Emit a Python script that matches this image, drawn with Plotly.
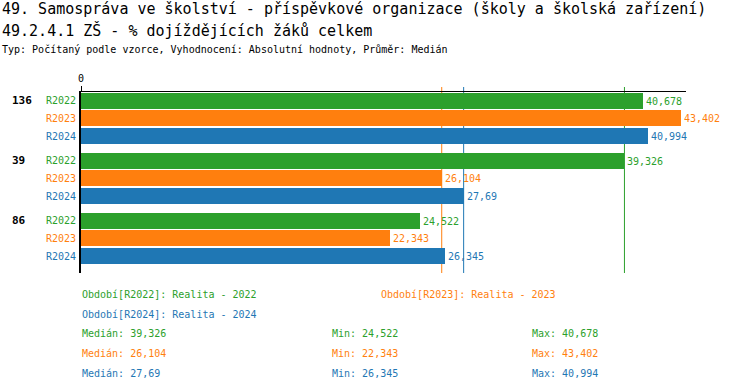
import numpy as np
import plotly.graph_objects as go

# ---- data ----
categories = ["136", "39", "86"]
series_names = ["R2022", "R2023", "R2024"]
series_desc = ["Realita - 2022", "Realita - 2023", "Realita - 2024"]
values_r2022 = [40.678, 39.326, 24.522]
values_r2023 = [43.402, 26.104, 22.343]
values_r2024 = [40.994, 27.69, 26.345]
x_ticks = [0]
x_tick_labels = ["0"]

title_1 = "49. Samospráva ve školství - příspěvkové organizace (školy a školská zařízení)"
title_2 = "49.2.4.1 ZŠ - % dojíždějících žáků celkem"
title_3 = "Typ: Počítaný podle vzorce, Vyhodnocení: Absolutní hodnoty, Průměr: Medián"

# ---- styles / layout ----
colors = ["#2ca02c", "#ff7f0e", "#1f77b4"]
FONT = "DejaVu Sans Mono"
W, H = 750, 392
PLOT_LEFT, PLOT_RIGHT, PLOT_TOP, PLOT_BOTTOM = 81, 686, 92, 273  # window pixels
L = PLOT_LEFT
R = W - PLOT_RIGHT
T = PLOT_TOP
B = H - PLOT_BOTTOM
PW, PH = W - L - R, H - T - B
GROUP = 60.0
SLOT = 17.8
BARW = 16
X_MAX = 43.78


def fmt(v):
    return f"{float(v):g}".replace(".", ",")


def paper(xpx, ypx):
    # window pixel coordinates -> paper coordinates
    return (xpx - PLOT_LEFT) / PW, (PLOT_BOTTOM - ypx) / PH


series_values = [values_r2022, values_r2023, values_r2024]

fig = go.Figure()
annotations = []
shapes = []

for s, (name, vals, col) in enumerate(zip(series_names, series_values, colors)):
    ys = [g * GROUP + s * SLOT for g in range(len(categories))]
    fig.add_trace(go.Bar(
        orientation="h",
        x=vals,
        y=ys,
        width=BARW,
        marker=dict(color=col, line=dict(width=0)),
        text=[fmt(v) for v in vals],
        textposition="outside",
        textfont=dict(family=FONT, size=10, color=col),
        cliponaxis=False,
        constraintext="none",
        name=name,
        showlegend=False,
        hoverinfo="skip",
    ))
    for y in ys:
        annotations.append(dict(
            x=0, y=y, xref="x", yref="y", text=name, showarrow=False,
            xanchor="right", yanchor="middle", xshift=-3,
            font=dict(family=FONT, size=10, color=col),
        ))
    med = float(np.median(vals))
    shapes.append(dict(
        type="line", xref="x", yref="paper", x0=med, x1=med,
        y0=0, y1=1 + 5 / PH, line=dict(color=col, width=1), layer="below",
    ))

# group labels
for g, cat in enumerate(categories):
    xp, _ = paper(10, 0)
    annotations.append(dict(
        x=xp, y=g * GROUP, xref="paper", yref="y", text=f"<b>{cat}</b>",
        showarrow=False, xanchor="left", yanchor="middle",
        font=dict(family=FONT, size=11, color="black"),
    ))

# titles
for txt, ypx, size in [(title_1, 9, 15), (title_2, 30, 15), (title_3, 50, 10)]:
    xp, yp = paper(0, ypx)
    annotations.append(dict(
        x=xp, y=yp, xref="paper", yref="paper", text=txt, showarrow=False,
        xanchor="left", yanchor="middle",
        font=dict(family=FONT, size=size, color="black"),
    ))

# legend rows
legend_items = [
    (f"Období[{series_names[0]}]: {series_desc[0]}", 80, 294.3, colors[0]),
    (f"Období[{series_names[1]}]: {series_desc[1]}", 379, 294.3, colors[1]),
    (f"Období[{series_names[2]}]: {series_desc[2]}", 80, 314.3, colors[2]),
]
row_y = [333.5, 353.5, 373.3]
for s, vals in enumerate(series_values):
    legend_items.append((f"Medián: {fmt(np.median(vals))}", 80, row_y[s], colors[s]))
    legend_items.append((f"Min: {fmt(min(vals))}", 330, row_y[s], colors[s]))
    legend_items.append((f"Max: {fmt(max(vals))}", 530, row_y[s], colors[s]))

for txt, xpx, ypx, col in legend_items:
    xp, yp = paper(xpx, ypx)
    annotations.append(dict(
        x=xp, y=yp, xref="paper", yref="paper", text=txt, showarrow=False,
        xanchor="left", yanchor="middle",
        font=dict(family=FONT, size=10, color=col),
    ))

y_top = -8.5
y_bottom = y_top + PH

fig.update_layout(
    width=W, height=H,
    margin=dict(l=L, r=R, t=T, b=B, pad=0),
    paper_bgcolor="white", plot_bgcolor="white",
    barmode="overlay",
    bargap=0,
    font=dict(family=FONT, size=10, color="black"),
    annotations=annotations,
    shapes=shapes,
    xaxis=dict(
        side="top", range=[0, X_MAX], showgrid=False, zeroline=False,
        showline=True, linecolor="black", linewidth=1,
        tickvals=x_ticks, ticktext=x_tick_labels, ticks="outside",
        ticklen=5, tickcolor="black", tickwidth=1,
        tickfont=dict(family=FONT, size=10, color="black"),
        fixedrange=True,
    ),
    yaxis=dict(
        range=[y_bottom, y_top], showgrid=False, zeroline=False,
        showline=True, linecolor="black", linewidth=2,
        showticklabels=False, ticks="", fixedrange=True,
    ),
)

fig.write_html(
    "out.html",
    config={"displayModeBar": False},
    post_script="document.body.style.margin='0px';document.body.style.overflow='hidden';",
)
